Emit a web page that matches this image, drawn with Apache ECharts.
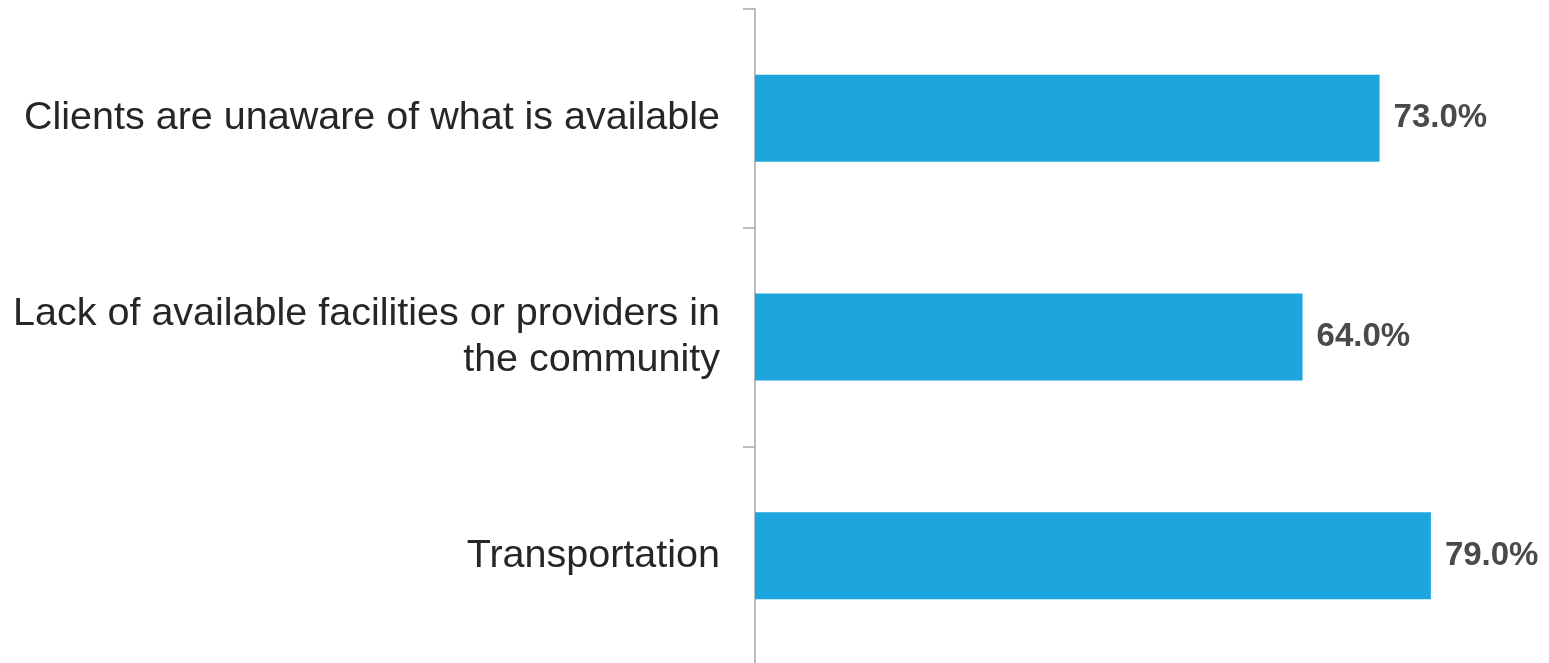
<!DOCTYPE html>
<html>
<head>
<meta charset="utf-8">
<script src="https://cdn.jsdelivr.net/npm/echarts@6/dist/echarts.min.js"></script>
<style>
  html, body { margin: 0; padding: 0; background: #ffffff; }
  #chart { width: 1549px; height: 663px; }
</style>
</head>
<body>
<div id="chart"></div>
<script>
// Barriers to accessing services: share of respondents (%)
const categories = [
  'Clients are unaware of what is available',
  'Lack of available facilities or providers in\nthe community',
  'Transportation'
];
const values = [73.0, 64.0, 79.0];

const chart = echarts.init(document.getElementById('chart'), null, { renderer: 'canvas' });

chart.setOption({
  animation: false,
  backgroundColor: '#ffffff',
  grid: {
    left: 755, width: 770, top: 9, height: 656,
    containLabel: false,
    outerBoundsMode: 'none'
  },
  xAxis: {
    type: 'value',
    min: 0,
    max: 90,
    show: false
  },
  yAxis: {
    type: 'category',
    inverse: true,
    data: categories,
    axisLine: { show: true, lineStyle: { color: '#a6a6a6', width: 1.5 } },
    axisTick: { show: true, length: 12, lineStyle: { color: '#a6a6a6', width: 1.5 } },
    axisLabel: {
      margin: 35,
      fontFamily: '"Liberation Sans", Arial, sans-serif',
      fontSize: 39.5,
      lineHeight: 46,
      color: '#262626',
      align: 'right'
    },
    splitLine: { show: false }
  },
  series: [{
    type: 'bar',
    data: values,
    barWidth: 87,
    itemStyle: { color: '#1da6dd' },
    label: {
      show: true,
      position: 'right',
      distance: 14,
      formatter: p => p.value.toFixed(1) + '%',
      fontFamily: '"Liberation Sans", Arial, sans-serif',
      fontWeight: 'bold',
      fontSize: 33,
      color: '#4a4a4a'
    }
  }]
});
</script>
</body>
</html>
